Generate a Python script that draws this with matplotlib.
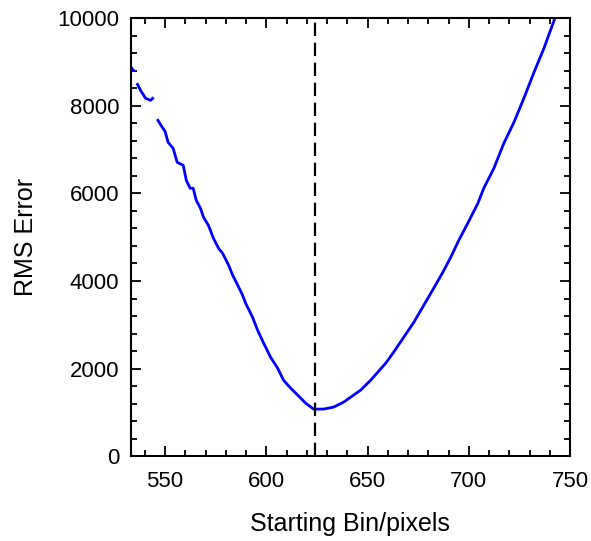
import numpy as np
import matplotlib.pyplot as plt
from matplotlib.ticker import MultipleLocator

plt.rcParams['font.family'] = ['Liberation Sans', 'DejaVu Sans']

# RMS error vs starting bin (nan = gaps in the curve)
start_bin = [532.9, 534.4, np.nan,
             536.4, 537.9, 540.4, 542.9, 543.9, np.nan,
             546.5, 548.0, 550.0, 551.5, 554.0, 556.0, 559.0, 560.5, 562.4,
             563.9, 565.4, 567.5, 569.0, 571.4, 573.9, 576.4, 578.4, 581.4,
             583.4, 585.4, 588.3, 589.8, 593.2, 595.7, 598.7, 602.1, 605.6,
             608.5, 612.0, 615.5, 619.4, 623.4, 628.3, 633.3, 638.2, 646.6,
             651.6, 659.0, 662.9, 667.9, 672.9, 677.8, 682.7, 687.2, 691.1,
             695.1, 699.5, 704.5, 707.4, 712.4, 717.3, 722.3, 727.2, 732.2,
             737.1, 742.5, 744.0]
rms_err = [8904, 8813, np.nan,
           8493, 8356, 8174, 8128, 8174, np.nan,
           7671, 7557, 7420, 7169, 7032, 6712, 6644, 6301, 6119,
           6119, 5845, 5662, 5457, 5274, 4977, 4749, 4635, 4361,
           4132, 3950, 3676, 3493, 3174, 2877, 2580, 2260, 2009,
           1735, 1553, 1393, 1210, 1073, 1073, 1119, 1233, 1507,
           1735, 2123, 2374, 2717, 3059, 3447, 3836, 4201, 4543,
           4932, 5320, 5776, 6119, 6575, 7146, 7626, 8174, 8767,
           9315, 10000, 10200]
best_bin = 624

fig = plt.figure(figsize=(5.91, 5.41), dpi=100)
ax = fig.add_axes([0.221, 0.157, 0.7435, 0.809])

ax.plot(start_bin, rms_err, color='#0000ff', lw=2)
ax.axvline(best_bin, color='black', lw=1.6, dashes=(6, 3))

ax.set_xlim(533, 750)
ax.set_ylim(0, 10000)
ax.xaxis.set_major_locator(MultipleLocator(50))
ax.xaxis.set_minor_locator(MultipleLocator(10))
ax.yaxis.set_major_locator(MultipleLocator(2000))
ax.yaxis.set_minor_locator(MultipleLocator(400))

ax.tick_params(which='both', direction='in', top=True, right=True,
               width=1.3, labelsize=16)
ax.tick_params(which='major', length=7.5)
ax.tick_params(which='minor', length=4)
ax.tick_params(axis='y', pad=8)
ax.tick_params(axis='x', pad=11)
for s in ax.spines.values():
    s.set_linewidth(1.5)

ax.set_xlabel('Starting Bin/pixels', fontsize=18, labelpad=14)
ax.set_ylabel('RMS Error', fontsize=18, labelpad=14)

fig.savefig('out.png', dpi=100)
